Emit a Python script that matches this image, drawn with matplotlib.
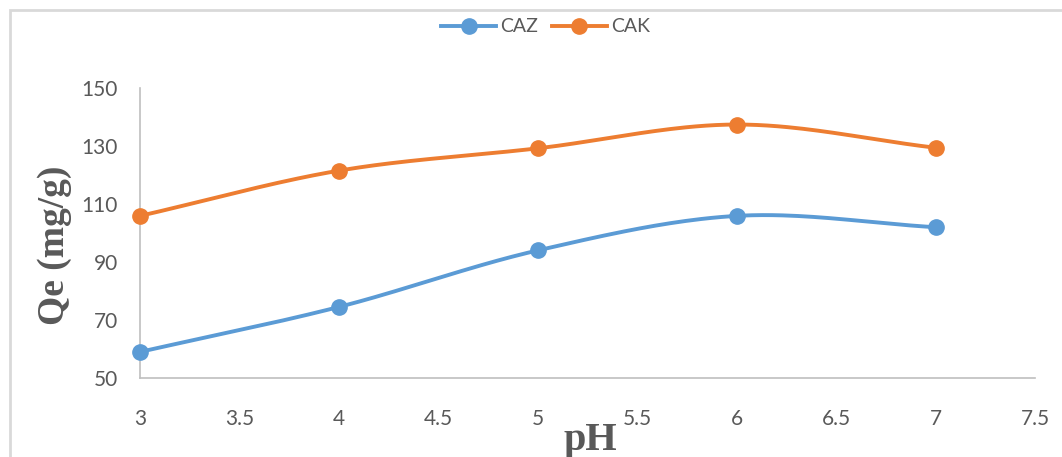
import numpy as np
import matplotlib.pyplot as plt
from matplotlib.patches import Rectangle

# adsorption capacity vs pH
ph = [3, 4, 5, 6, 7]
caz = [59.0, 74.5, 94.0, 105.9, 102.0]
cak = [105.9, 121.5, 129.2, 137.4, 129.4]

xticks = [3, 3.5, 4, 4.5, 5, 5.5, 6, 6.5, 7, 7.5]
yticks = [50, 70, 90, 110, 130, 150]


def smooth(x, y, n=40):
    # Catmull-Rom style smoothing through the points
    x = np.asarray(x, float)
    y = np.asarray(y, float)
    px = np.concatenate([[2 * x[0] - x[1]], x, [2 * x[-1] - x[-2]]])
    py = np.concatenate([[2 * y[0] - y[1]], y, [2 * y[-1] - y[-2]]])
    xs, ys = [], []
    t = np.linspace(0, 1, n)
    for i in range(1, len(px) - 2):
        for p, out in ((px, xs), (py, ys)):
            p0, p1, p2, p3 = p[i - 1], p[i], p[i + 1], p[i + 2]
            seg = 0.5 * ((2 * p1) + (-p0 + p2) * t
                         + (2 * p0 - 5 * p1 + 4 * p2 - p3) * t ** 2
                         + (-p0 + 3 * p1 - 3 * p2 + p3) * t ** 3)
            out.extend(seg)
    return np.array(xs), np.array(ys)


W, H = 1062, 457
fig = plt.figure(figsize=(W / 100, H / 100), dpi=100)
ax = fig.add_axes([140 / W, 1 - 378 / H, 895 / W, 290 / H])

tick_font = 'Lato'
gray = '#595959'

for y, color, name in ((caz, '#5b9bd5', 'CAZ'), (cak, '#ed7d31', 'CAK')):
    sx, sy = smooth(ph, y)
    ax.plot(sx, sy, color=color, lw=2.8, solid_capstyle='round', zorder=2)
    ax.plot(ph, y, 'o', color=color, ms=11, zorder=3, clip_on=False)
    ax.plot([], [], '-o', color=color, lw=2.8, ms=11, label=name)

ax.set_xlim(3, 7.5)
ax.set_ylim(50, 150)
ax.set_xticks(xticks)
ax.set_xticklabels([f'{v:g}' for v in xticks])
ax.set_yticks(yticks)

for s in ['top', 'right']:
    ax.spines[s].set_visible(False)
for s in ['left', 'bottom']:
    ax.spines[s].set_color('#bfbfbf')
    ax.spines[s].set_linewidth(1.2)
ax.tick_params(length=0, labelsize=15, labelcolor=gray)
ax.tick_params(axis='x', pad=22)
ax.tick_params(axis='y', pad=16)
for lab in ax.get_xticklabels() + ax.get_yticklabels():
    lab.set_fontfamily(tick_font)

# axis titles
fig.text(590 / W, 1 - 450 / H, 'pH', ha='center', va='baseline',
         fontfamily='Liberation Serif', fontweight='bold', fontsize=29,
         color=gray)
fig.text(54 / W, 1 - 245 / H, 'Qe (mg/g)', ha='center', va='center',
         rotation=90, fontfamily='Liberation Serif', fontweight='bold',
         fontsize=27, color=gray)

leg = fig.legend(loc='center', bbox_to_anchor=(0.514, 0.941), ncol=2,
                 frameon=False, prop={'family': tick_font, 'size': 14},
                 handlelength=2.8, columnspacing=0.7, handletextpad=0.25)
for t in leg.get_texts():
    t.set_color(gray)

# chart area border
fig.patches.append(Rectangle((10 / W, -0.1), 1.2, 1.1 - 10 / H,
                             transform=fig.transFigure, fill=False,
                             edgecolor='#d9d9d9', lw=2))

fig.savefig('out.png', dpi=100)
